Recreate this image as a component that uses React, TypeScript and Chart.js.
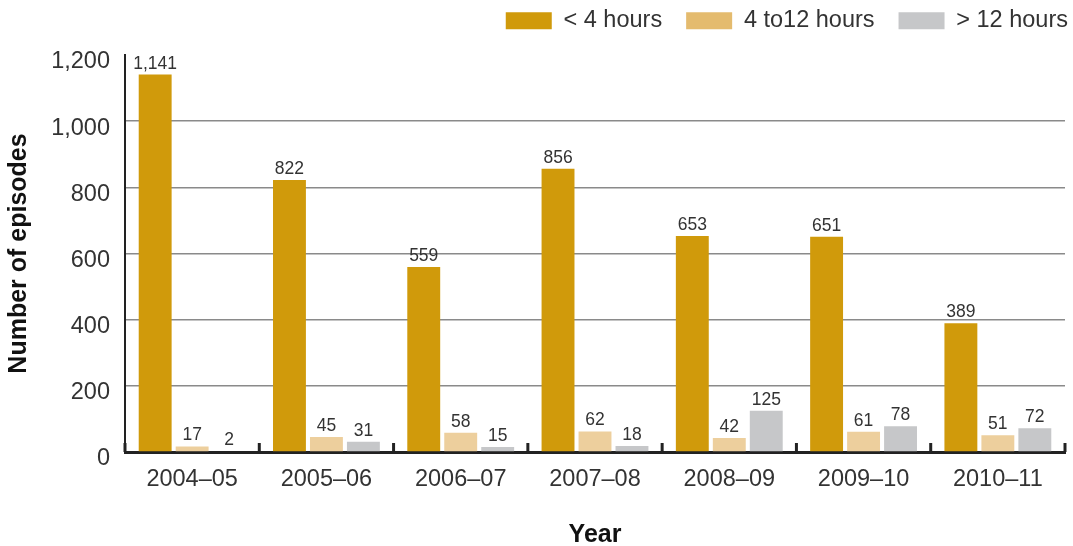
import React, { useEffect, useRef } from "react";
import { Chart, registerables } from "chart.js";

Chart.register(...registerables);

const years = ["2004–05", "2005–06", "2006–07", "2007–08", "2008–09", "2009–10", "2010–11"];
const under4 = [1141, 822, 559, 856, 653, 651, 389];
const from4to12 = [17, 45, 58, 62, 42, 61, 51];
const over12 = [2, 31, 15, 18, 125, 78, 72];
const seriesNames = ["< 4 hours", "4 to12 hours", "> 12 hours"];
const yTicks = [0, 200, 400, 600, 800, 1000, 1200];

const barColors = ["#D09A0B", "#EDCF9D", "#C6C7C9"];
const legendColors = ["#D09A0B", "#E4BB6E", "#C6C7C9"];
const FONT = "'Liberation Sans', Arial, Helvetica, sans-serif";
const TEXT = "#333333";
const AXIS = "#222222";

const fmt = (v: number) => v.toString().replace(/\B(?=(\d{3})+(?!\d))/g, ",");

// value labels above each bar
const valueLabels = {
  id: "valueLabels",
  afterDatasetsDraw(chart: any) {
    const ctx = chart.ctx;
    ctx.save();
    ctx.font = `17.5px ${FONT}`;
    ctx.fillStyle = TEXT;
    ctx.textAlign = "center";
    ctx.textBaseline = "alphabetic";
    chart.data.datasets.forEach((ds: any, di: number) => {
      const meta = chart.getDatasetMeta(di);
      meta.data.forEach((bar: any, i: number) => {
        ctx.fillText(fmt(ds.data[i]), bar.x, bar.y - 6);
      });
    });
    ctx.restore();
  },
};

// short inward tick marks on the category boundaries of the x axis
const boundaryTicks = {
  id: "boundaryTicks",
  afterDraw(chart: any) {
    const xs = chart.scales.x;
    const ctx = chart.ctx;
    const y0 = chart.chartArea.bottom;
    ctx.save();
    ctx.strokeStyle = AXIS;
    ctx.lineWidth = 3;
    for (let i = 0; i <= years.length; i++) {
      const x = xs.getPixelForValue(i - 0.5);
      ctx.beginPath();
      ctx.moveTo(x, y0);
      ctx.lineTo(x, y0 - 9);
      ctx.stroke();
    }
    ctx.restore();
  },
};

// fixed legend band height, and legend pushed to the right edge
const legendSpacing = {
  id: "legendSpacing",
  beforeInit(chart: any) {
    const legend = chart.legend;
    const fit = legend.fit;
    legend.fit = function () {
      fit.call(this);
      this.height = 70;
    };
  },
  afterLayout(chart: any) {
    chart.legend.right += 27;
    chart.legend.width += 27;
  },
};

export default function App() {
  const ref = useRef<HTMLCanvasElement | null>(null);

  useEffect(() => {
    if (!ref.current) return;
    const chart = new Chart(ref.current, {
      type: "bar",
      data: {
        labels: years,
        datasets: [under4, from4to12, over12].map((d, i) => ({
          label: seriesNames[i],
          data: d,
          backgroundColor: barColors[i],
          borderWidth: 0,
          categoryPercentage: 0.826,
          barPercentage: 0.89,
        })),
      },
      options: {
        responsive: false,
        animation: false,
        layout: { padding: { top: -15, right: 8, bottom: 0, left: 0 } },
        plugins: {
          tooltip: { enabled: false },
          legend: {
            position: "top",
            align: "end",
            labels: {
              boxWidth: 46,
              boxHeight: 17,
              padding: 24,
              color: TEXT,
              font: { family: FONT, size: 23.5 },
              generateLabels(c: any) {
                const items = Chart.defaults.plugins.legend.labels.generateLabels(c);
                return items.map((it: any, i: number) => ({
                  ...it,
                  fillStyle: legendColors[i],
                  strokeStyle: legendColors[i],
                  lineWidth: 0,
                }));
              },
            },
          },
        },
        scales: {
          x: {
            offset: true,
            grid: { display: false, drawTicks: false },
            border: { display: true, color: AXIS, width: 3 },
            ticks: { color: TEXT, font: { family: FONT, size: 23.5 }, padding: 13, maxRotation: 0 },
            title: {
              display: true,
              text: "Year",
              color: "#111",
              font: { family: FONT, size: 25, weight: "bold", lineHeight: 0.9 },
              padding: 0,
            },
            afterFit(s: any) {
              s.height = 94;
            },
          },
          y: {
            min: 0,
            max: 1200,
            afterBuildTicks(s: any) {
              s.ticks = yTicks.map((v) => ({ value: v }));
            },
            grid: {
              drawTicks: false,
              color: (c: any) => (c.tick && c.tick.value === 1200 ? "rgba(0,0,0,0)" : "#8a8a8a"),
              lineWidth: 1.5,
            },
            border: { display: true, color: AXIS, width: 2 },
            ticks: {
              color: TEXT,
              font: { family: FONT, size: 23.5 },
              padding: 15,
              labelOffset: 7,
              callback: (v: any) => fmt(Number(v)),
            },
            title: {
              display: true,
              text: "Number of episodes",
              color: "#111",
              font: { family: FONT, size: 25, weight: "bold" },
              padding: { top: 4, bottom: 0 },
            },
            afterFit(s: any) {
              s.width = 125;
            },
          },
        },
      },
      plugins: [valueLabels, boundaryTicks, legendSpacing],
    });
    return () => chart.destroy();
  }, []);

  return (
    <div style={{ position: "absolute", left: 0, top: 0, width: 1073, height: 546, background: "#fff" }}>
      <canvas ref={ref} width={1073} height={546} style={{ display: "block" }} />
    </div>
  );
}
